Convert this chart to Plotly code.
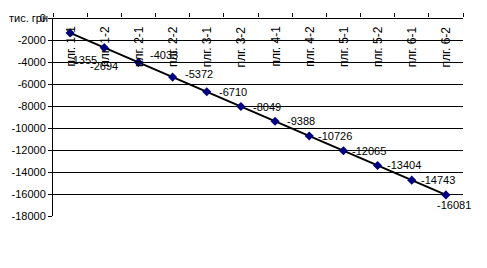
import plotly.graph_objects as go

categories = ["плг. 1-1", "плг. 1-2", "плг. 2-1", "плг. 2-2", "плг. 3-1", "плг. 3-2",
              "плг. 4-1", "плг. 4-2", "плг. 5-1", "плг. 5-2", "плг. 6-1", "плг. 6-2"]
values = [-1355, -2694, -4033, -5372, -6710, -8049, -9388, -10726, -12065, -13404, -14743, -16081]
y_ticks = [0, -2000, -4000, -6000, -8000, -10000, -12000, -14000, -16000, -18000]
y_title = "тис. грн"

# label offsets in pixels (style only)
label_dx = [13, 0, 26, 26, 26, 26, 26, 26, 26, 26, 26, 8]
label_dy = [-27, -18, 7, 3, 0, 0, 0, 0, 0, 0, 0, -10]

FONT = "Liberation Sans, Arial, sans-serif"

fig = go.Figure()
fig.add_trace(go.Scatter(
    x=categories, y=values, mode="lines+markers",
    line=dict(color="black", width=2),
    marker=dict(symbol="diamond", size=7, color="#000080"),
    showlegend=False, cliponaxis=False,
))

annotations = []
for c, v, dx, dy in zip(categories, values, label_dx, label_dy):
    annotations.append(dict(x=c, y=v, xref="x", yref="y", text=str(v), showarrow=False,
                            xshift=dx, yshift=dy, font=dict(family=FONT, size=11, color="black")))
for c in categories:
    annotations.append(dict(x=c, y=0, xref="x", yref="y", text=c, showarrow=False,
                            textangle=-90, yanchor="top", xanchor="center", yshift=-6,
                            font=dict(family=FONT, size=12, color="black")))
annotations.append(dict(x=-0.112, y=1.0, xref="paper", yref="paper", text=y_title,
                        showarrow=False, xanchor="left", yanchor="middle",
                        font=dict(family=FONT, size=11, color="black")))

fig.update_layout(
    width=487, height=268,
    margin=dict(l=53, r=24, t=16, b=52),
    paper_bgcolor="white", plot_bgcolor="white",
    font=dict(family=FONT, size=11, color="black"),
    xaxis=dict(type="category", side="top", range=[-0.5, 11.5], showticklabels=False,
               ticks="outside", ticklen=4, tickcolor="black", tickson="boundaries",
               showgrid=False, showline=False, zeroline=False),
    yaxis=dict(range=[-18000, 0], tickvals=y_ticks, ticktext=[str(t) for t in y_ticks],
               showgrid=True, gridcolor="black", gridwidth=1,
               zeroline=True, zerolinecolor="black", zerolinewidth=1,
               showline=True, linecolor="black", linewidth=1,
               ticks="outside", ticklen=4, tickcolor="black",
               tickfont=dict(family=FONT, size=11, color="black")),
    annotations=annotations,
)

fig.write_html("out.html")
